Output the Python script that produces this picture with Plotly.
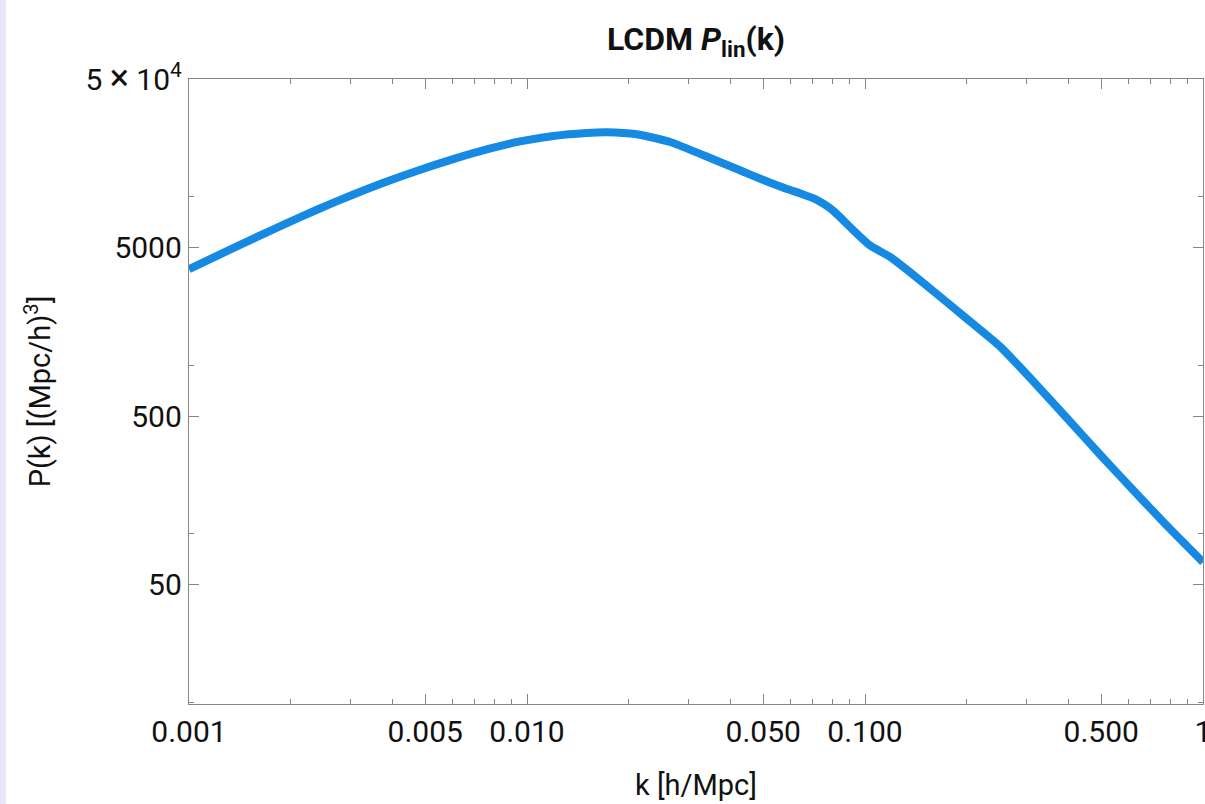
import plotly.graph_objects as go

# Linear matter power spectrum, LCDM
k_vals = [0.001, 0.001218, 0.001529, 0.00192, 0.002409, 0.003026, 0.003797,
          0.004764, 0.006048, 0.0076, 0.00953, 0.01197, 0.01502, 0.01722,
          0.02113, 0.02653, 0.03329, 0.0418, 0.04577, 0.0520, 0.0588,
          0.0644, 0.0705, 0.0755, 0.0808, 0.0926, 0.1038, 0.1189, 0.1450,
          0.2007, 0.2518, 0.3159, 0.3968, 0.498, 0.625, 0.785, 1.0]
p_vals = [3720, 4495, 5580, 6896, 8441, 10223, 12205,
          14337, 16742, 19113, 21306, 22977, 23930, 24160,
          23490, 21150, 17637, 14630, 13546, 12203, 11124,
          10476, 9788, 9077, 8226, 6305, 5120, 4390, 3220,
          1880, 1286, 797, 484, 293, 180, 111, 68]

x_tick_vals = [0.001, 0.005, 0.01, 0.05, 0.1, 0.5, 1]
x_tick_text = ["0.001", "0.005", "0.010", "0.050", "0.100", "0.500", "1"]
x_minor_vals = [m * 10.0 ** e for e in (-3, -2, -1) for m in (2, 3, 4, 6, 7, 8, 9)]

y_tick_vals = [50, 500, 5000, 50000]
y_tick_text = ["50", "500", "5000",
               "5<span style='font-size:36px'>\u2009\u00d7\u2009</span>10<sup>4</sup>"]
y_minor_vals = [10, 100, 1000, 10000]

FONT = "Roboto, 'Noto Sans', sans-serif"
FRAME = "#858585"

fig = go.Figure()
fig.add_trace(go.Scatter(
    x=k_vals, y=p_vals, mode="lines",
    line=dict(color="#1689E2", width=8, shape="spline", smoothing=0.6),
    showlegend=False,
))

axis_common = dict(
    type="log",
    showgrid=False, zeroline=False,
    showline=True, linecolor=FRAME, linewidth=1.3, mirror="ticks",
    ticks="inside", ticklen=10, tickwidth=1.2, tickcolor=FRAME,
    tickmode="array",
    ticklabeloverflow="allow",
    tickfont=dict(family=FONT, size=30, color="#111111"),
    title_font=dict(family=FONT, size=29, color="#111111"),
)

fig.update_xaxes(
    **axis_common,
    range=[-3, 0],
    tickvals=x_tick_vals, ticktext=x_tick_text,
    minor=dict(tickmode="array", tickvals=x_minor_vals, ticks="inside",
               ticklen=5, tickwidth=1.2, tickcolor=FRAME),
    ticklabelstandoff=1,
    title=dict(text="k [h/Mpc]", standoff=26),
)
fig.update_yaxes(
    **axis_common,
    range=[0.9912, 4.699],
    tickvals=y_tick_vals, ticktext=y_tick_text,
    minor=dict(tickmode="array", tickvals=y_minor_vals, ticks="inside",
               ticklen=5, tickwidth=1.2, tickcolor=FRAME),
    ticklabelstandoff=0,
    title=dict(text="P(k) [(Mpc/h)<sup>3</sup>]", standoff=26),
)

# lavender strip along the left edge of the page
fig.add_shape(type="rect", xref="paper", yref="paper",
              x0=-189 / 1014, x1=-183 / 1014, y0=-0.2, y1=1.2,
              fillcolor="#E6E6FA", line_width=0, layer="below")

fig.update_layout(
    width=1205, height=804,
    margin=dict(l=189, r=2, t=79, b=100, autoexpand=False),
    paper_bgcolor="white", plot_bgcolor="white",
    title=dict(text="<b>LCDM <i>P</i><sub>lin</sub>(k)</b>",
               x=(189 + 1014 / 2) / 1205, xanchor="center",
               y=1 - 39 / 804, yanchor="middle",
               font=dict(family=FONT, size=32, color="#111111")),
)

fig.write_html("out.html")
